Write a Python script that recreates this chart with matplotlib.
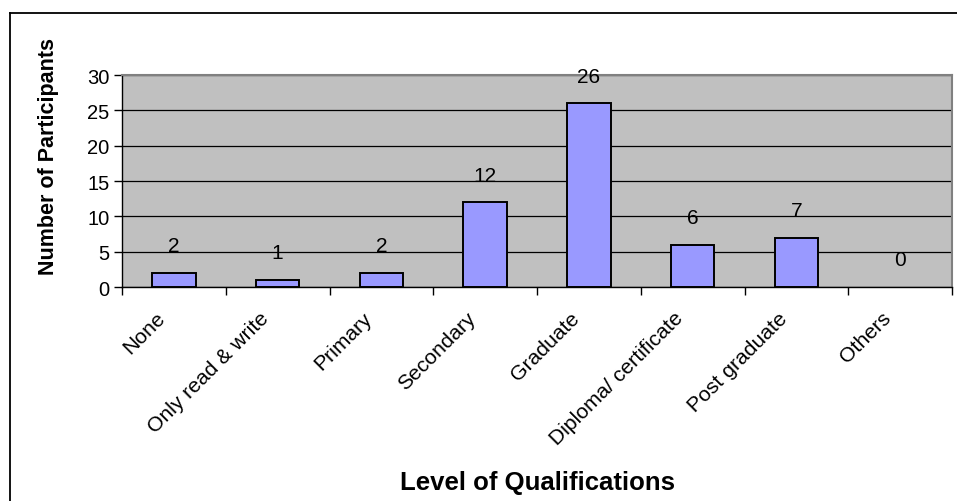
import matplotlib
matplotlib.use("Agg")
import matplotlib.pyplot as plt
import matplotlib.transforms as mtransforms
from matplotlib.lines import Line2D
import numpy as np

categories = ["None", "Only read & write", "Primary", "Secondary", "Graduate",
              "Diploma/ certificate", "Post graduate", "Others"]
participants = [2, 1, 2, 12, 26, 6, 7, 0]
y_ticks = [0, 5, 10, 15, 20, 25, 30]

plt.rcParams['font.family'] = ['Liberation Sans', 'DejaVu Sans']

W, H = 957, 502
fig = plt.figure(figsize=(W / 100, H / 100), dpi=100)
fig.patch.set_facecolor('white')

left, right, top, bottom = 122, 952, 76, 288
ax = fig.add_axes([left / W, 1 - bottom / H, (right - left) / W, (bottom - top) / H])
ax.set_facecolor('#C0C0C0')

x = np.arange(len(categories))
lws = [1.4 if v > 0 else 0 for v in participants]
ax.bar(x, participants, width=0.42, color='#9999FF', edgecolor='black',
       linewidth=lws, zorder=3)

ax.set_xlim(-0.5, len(categories) - 0.5)
ax.set_ylim(0, 30)
ax.set_yticks(y_ticks)
ax.yaxis.grid(True, color='black', linewidth=0.9, zorder=1)
ax.set_axisbelow(True)

ax.tick_params(axis='y', length=6, width=1, labelsize=14.5, pad=3, direction='out')

# category boundary ticks (major) and label positions (minor)
ax.set_xticks(np.arange(len(categories) + 1) - 0.5)
ax.set_xticklabels([])
ax.tick_params(axis='x', which='major', length=6, width=1, direction='out')
ax.set_xticks(x, minor=True)
ax.set_xticklabels(categories, minor=True, rotation=45, ha='right', va='center',
                   rotation_mode='anchor', fontsize=15.2)
ax.tick_params(axis='x', which='minor', length=0, pad=20)
offset = mtransforms.ScaledTranslation(-12 / 100, 0, fig.dpi_scale_trans)
for lbl in ax.get_xticklabels(minor=True):
    lbl.set_transform(lbl.get_transform() + offset)

for s in ['left', 'bottom']:
    ax.spines[s].set_color('black')
    ax.spines[s].set_linewidth(1)
for s in ['top', 'right']:
    ax.spines[s].set_color('#808080')
    ax.spines[s].set_linewidth(1.5)

# data labels
for xi, v in zip(x, participants):
    ax.annotate(str(v), (xi, v), xytext=(0, 27), textcoords='offset pixels',
                ha='center', va='center', fontsize=15, zorder=5)

fig.text(49 / W, 1 - 157 / H, "Number of Participants", rotation=90,
         ha='center', va='center', fontsize=15.5, fontweight='bold')
fig.text(537 / W, 1 - 483 / H, "Level of Qualifications",
         ha='center', va='center', fontsize=18.5, fontweight='bold')

# outer chart frame (top and left edges visible)
fig.add_artist(Line2D([10 / W, 1.0], [1 - 14 / H, 1 - 14 / H],
                      transform=fig.transFigure, color='black', linewidth=1.3))
fig.add_artist(Line2D([10 / W, 10 / W], [1 - 14 / H, 0.0],
                      transform=fig.transFigure, color='black', linewidth=1.3))

fig.savefig("out.png", dpi=100)
